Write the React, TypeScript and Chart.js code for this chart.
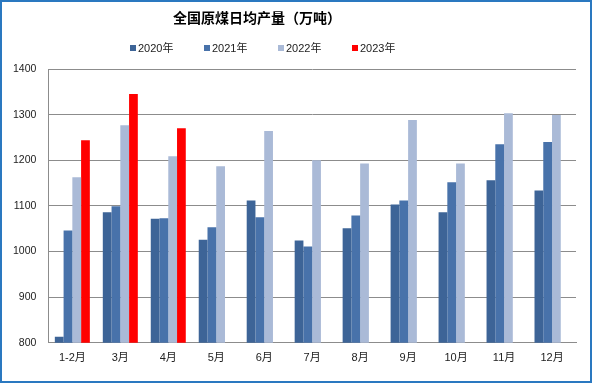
import React, { useEffect, useRef } from "react";
import { Chart, registerables } from "chart.js";

Chart.register(...registerables);

const TITLE = "全国原煤日均产量（万吨）";
const categories = ["1-2月", "3月", "4月", "5月", "6月", "7月", "8月", "9月", "10月", "11月", "12月"];
const seriesNames = ["2020年", "2021年", "2022年", "2023年"];
const seriesColors = ["#3d6497", "#4872aa", "#aabad7", "#ff0000"];
const s2020 = [813, 1086, 1072, 1026, 1112, 1024, 1051, 1103, 1086, 1156, 1134];
const s2021 = [1046, 1099, 1073, 1053, 1075, 1011, 1079, 1112, 1152, 1235, 1240];
const s2022 = [1163, 1277, 1209, 1187, 1264, 1200, 1193, 1288, 1193, 1303, 1299];
const s2023 = [1244, 1345, 1270, null, null, null, null, null, null, null, null];
const yMin = 800;
const yMax = 1400;
const yStep = 100;

const FONT = '"Liberation Sans", "Noto Sans CJK SC", sans-serif';

const headerPlugin = {
  id: "header",
  afterDraw(chart: any) {
    const ctx = chart.ctx;
    ctx.save();
    ctx.fillStyle = "#000";
    ctx.font = `bold 14px "Noto Sans CJK SC", sans-serif`;
    ctx.textAlign = "center";
    ctx.textBaseline = "middle";
    ctx.fillText(TITLE, 257, 18);
    ctx.font = `11px ${FONT}`;
    ctx.textAlign = "left";
    seriesNames.forEach((name, i) => {
      const x = 130 + i * 74;
      ctx.fillStyle = seriesColors[i];
      ctx.fillRect(x, 45, 6, 6);
      ctx.fillStyle = "#222";
      ctx.fillText(name, x + 8, 48.5);
    });
    ctx.restore();
  },
};

export default function App() {
  const ref = useRef<HTMLCanvasElement>(null);
  useEffect(() => {
    const series = [s2020, s2021, s2022, s2023];
    const chart = new Chart(ref.current!, {
      type: "bar",
      data: {
        labels: categories,
        datasets: series.map((d, i) => ({
          label: seriesNames[i],
          data: d,
          backgroundColor: seriesColors[i],
          borderWidth: 0,
          categoryPercentage: 0.73,
          barPercentage: 1,
        })),
      },
      options: {
        responsive: false,
        animation: false,
        layout: { padding: { top: 69, left: 1, right: 16, bottom: 9 } },
        plugins: {
          legend: { display: false },
          title: { display: false },
          tooltip: { enabled: false },
        },
        scales: {
          x: {
            grid: { display: false, drawTicks: false },
            border: { color: "#8c8c8c" },
            ticks: { color: "#222", font: { size: 11, family: FONT }, padding: 9 },
          },
          y: {
            min: yMin,
            max: yMax,
            ticks: {
              stepSize: yStep,
              color: "#222",
              font: { size: 10.5, family: FONT },
              padding: 12,
              callback: (v: any) => String(v),
            },
            grid: { color: "#8c8c8c", drawTicks: false },
            border: { color: "#8c8c8c" },
          },
        },
      },
      plugins: [headerPlugin],
    });
    return () => chart.destroy();
  }, []);
  return (
    <div style={{ position: "fixed", left: 0, top: 0, width: 592, height: 383, background: "#fff" }}>
      <canvas ref={ref} width={592} height={383} style={{ position: "absolute", left: 0, top: 0 }} />
      <div
        style={{
          position: "absolute",
          left: 0,
          top: 0,
          width: 592,
          height: 383,
          boxSizing: "border-box",
          border: "2px solid #2a78c0",
          pointerEvents: "none",
        }}
      />
    </div>
  );
}
